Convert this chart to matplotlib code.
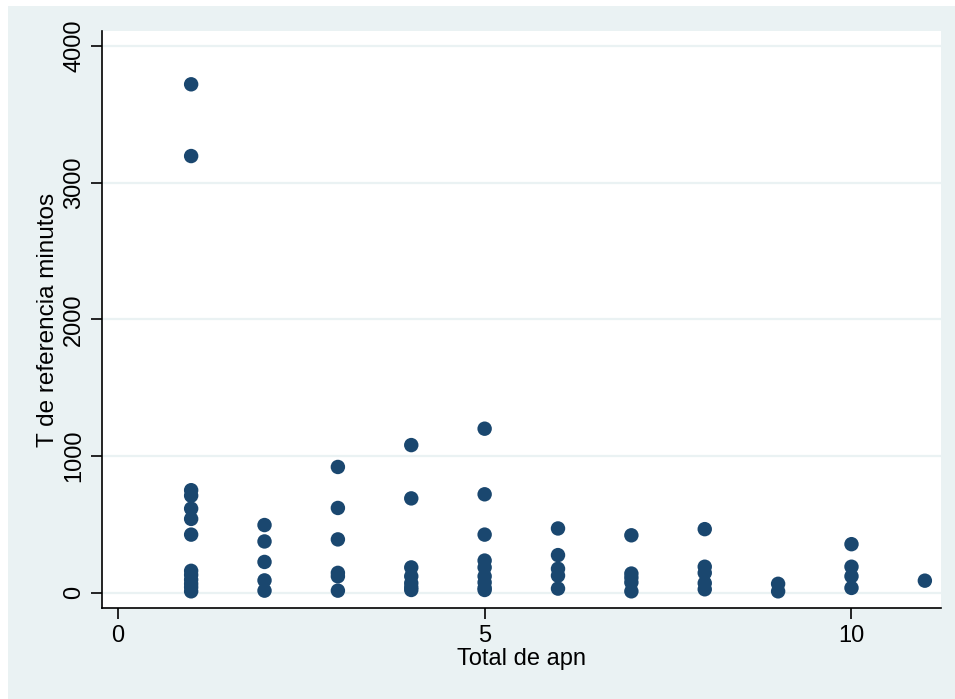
import matplotlib
matplotlib.use("Agg")
import matplotlib.pyplot as plt
from matplotlib.patches import Rectangle

plt.rcParams['font.family'] = ['Liberation Sans', 'DejaVu Sans']

# Observations grouped by total count of apn
apn_values = [1, 2, 3, 4, 5, 6, 7, 8, 9, 10, 11]
t_minutes = [
    [3720, 3195, 750, 710, 615, 540, 425, 160, 130, 95, 65, 40, 10],
    [495, 375, 225, 90, 15],
    [920, 620, 390, 145, 120, 15],
    [1080, 690, 185, 120, 70, 40, 20],
    [1200, 720, 425, 235, 185, 120, 75, 35, 20],
    [470, 275, 175, 125, 30],
    [420, 140, 110, 75, 10],
    [465, 190, 145, 70, 25],
    [65, 10],
    [355, 190, 120, 35],
    [88],
]
x_ticks = [0, 5, 10]
y_ticks = [0, 1000, 2000, 3000, 4000]

xs, ys = [], []
for a, vals in zip(apn_values, t_minutes):
    xs.extend([a] * len(vals))
    ys.extend(vals)

W, H = 955, 699
bg = '#EAF2F3'
navy = '#1A476F'

fig = plt.figure(figsize=(W / 100, H / 100), dpi=100)
fig.patch.set_facecolor('white')
fig.patches.append(Rectangle((8 / W, 0), 1 - 8 / W, 1 - 6 / H,
                             transform=fig.transFigure, facecolor=bg,
                             edgecolor='none', zorder=-10))

ax = fig.add_axes([102 / W, (H - 608) / H, (941 - 102) / W, (608 - 31) / H])
ax.set_facecolor('white')
ax.scatter(xs, ys, s=108, color=navy, edgecolors='none', zorder=3)

ax.set_xlim(-0.215, 11.22)
ax.set_ylim(-112, 4110)
ax.set_xticks(x_ticks)
ax.set_yticks(y_ticks)
ax.set_yticklabels([str(v) for v in y_ticks], rotation=90, va='center')

ax.grid(axis='y', color=bg, linewidth=1.6, zorder=0)
ax.grid(axis='x', visible=False)
ax.set_axisbelow(True)

for side in ('top', 'right'):
    ax.spines[side].set_visible(False)
for side in ('left', 'bottom'):
    ax.spines[side].set_color('black')
    ax.spines[side].set_linewidth(1.2)

ax.tick_params(axis='both', direction='out', length=8, width=1.2,
               color='black', labelsize=17, labelcolor='black')
ax.tick_params(axis='y', pad=4)
ax.tick_params(axis='x', pad=4)

ax.set_xlabel('Total de apn', fontsize=17, labelpad=1)
ax.set_ylabel('T de referencia minutos', fontsize=17.5, labelpad=3)

fig.savefig('out.png', dpi=100, facecolor=fig.get_facecolor())
